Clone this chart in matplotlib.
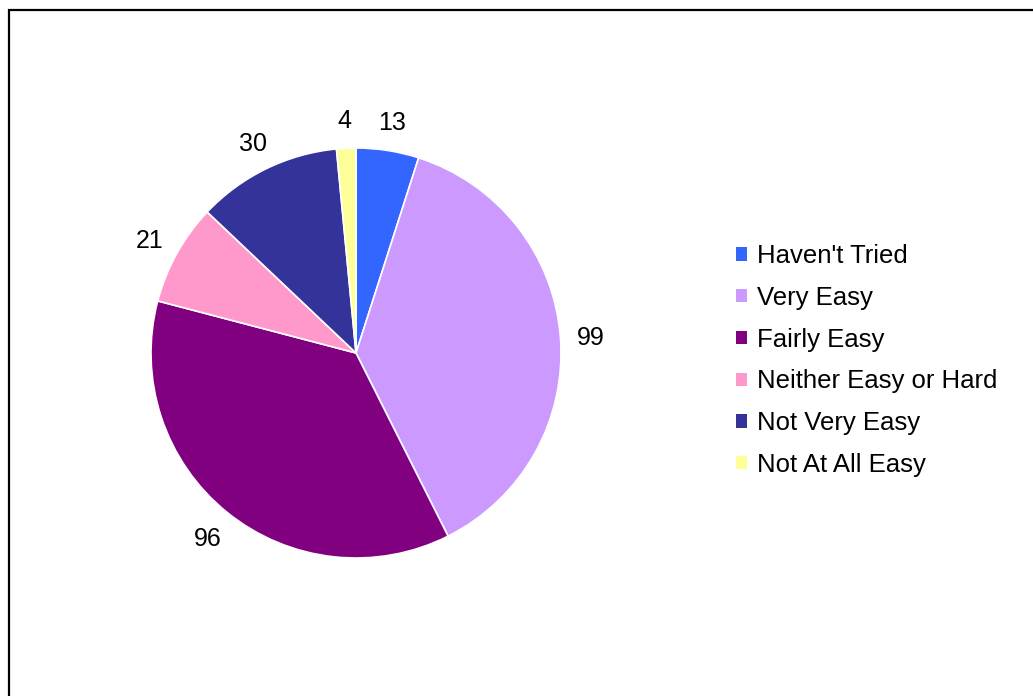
import matplotlib
matplotlib.use('Agg')
import matplotlib.pyplot as plt
from matplotlib.patches import Rectangle, Patch

plt.rcParams['font.family'] = ['Liberation Sans', 'DejaVu Sans']

categories = ["Haven't Tried", 'Very Easy', 'Fairly Easy', 'Neither Easy or Hard',
              'Not Very Easy', 'Not At All Easy']
counts = [13, 99, 96, 21, 30, 4]
colors = ['#3366FF', '#CC99FF', '#800080', '#FF99CC', '#333399', '#FFFF99']

W, H = 1033, 696
fig = plt.figure(figsize=(W / 100, H / 100), dpi=100)

# pie axes placed in pixel terms: centre (356, 353), radius 205
cx, cy, r = 356, 353, 205
ax = fig.add_axes([(cx - r) / W, (H - cy - r) / H, 2 * r / W, 2 * r / H])
wedges, texts = ax.pie(counts, colors=colors, labels=[str(c) for c in counts],
                       startangle=90, counterclock=False, radius=1,
                       labeldistance=1.15,
                       wedgeprops=dict(edgecolor='white', linewidth=1.2),
                       textprops=dict(fontsize=18, color='black'))
for t in texts:
    t.set_horizontalalignment('center')
    t.set_verticalalignment('center')
    x, y = t.get_position()
    t.set_position((x, y - 0.015))
ax.set_xlim(-1, 1)
ax.set_ylim(-1, 1)
ax.set_aspect('equal')
ax.axis('off')

handles = [Patch(facecolor=c, edgecolor='none') for c in colors]
fig.legend(handles, categories, loc='upper left',
           bbox_to_anchor=(726 / W, 1 - 234 / H), frameon=False,
           fontsize=18.5, handlelength=0.42, handleheight=0.42,
           handletextpad=0.4, labelspacing=0.69, borderaxespad=0)

# outer frame, clipped by the right and bottom edges
fig.add_artist(Rectangle((9 / W, -0.1), 1.2, 1.1 - 10 / H, transform=fig.transFigure,
                         fill=False, edgecolor='black', linewidth=1.6))

fig.savefig('out.png', dpi=100)
